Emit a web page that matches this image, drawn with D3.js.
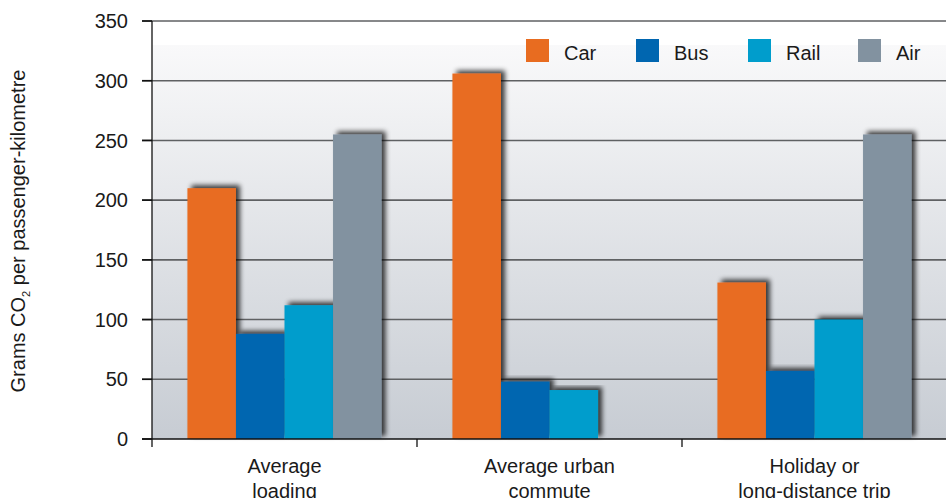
<!DOCTYPE html>
<html>
<head>
<meta charset="utf-8">
<script src="https://cdn.jsdelivr.net/npm/d3@7"></script>
<style>
  body { margin: 0; background: #fff; }
  svg text { font-family: "Liberation Sans", Arial, Helvetica, sans-serif; fill: #1a1a1a; }
</style>
</head>
<body>
<svg class="chartsvg" width="946" height="498"></svg>
<script>
// data
var categories = [["Average", "loading"], ["Average urban", "commute"], ["Holiday or", "long-distance trip"]];
var series = ["Car", "Bus", "Rail", "Air"];
var car  = [210, 306, 131];
var bus  = [88, 48, 57];
var rail = [112, 41, 100];
var air  = [255, null, 255];
var yTicks = [0, 50, 100, 150, 200, 250, 300, 350];

var colors = {Car: "#e86c20", Bus: "#0066b0", Rail: "#009dcc", Air: "#8292a0"};
var values = {Car: car, Bus: bus, Rail: rail, Air: air};

var margin = {top: 21, right: 0, bottom: 59, left: 152};
var width = 946, height = 498;
var svg = d3.select(".chartsvg");
var defs = svg.append("defs");

var grad = defs.append("linearGradient")
    .attr("id", "bg").attr("x1", 0).attr("y1", 0).attr("x2", 0).attr("y2", 1);
grad.append("stop").attr("offset", "0%").attr("stop-color", "#f9f9fa");
grad.append("stop").attr("offset", "100%").attr("stop-color", "#c7ccd3");

var shadow = defs.append("filter").attr("id", "shadow")
    .attr("x", "-30%").attr("y", "-10%").attr("width", "160%").attr("height", "120%");
shadow.append("feGaussianBlur").attr("in", "SourceAlpha").attr("stdDeviation", 2.6).attr("result", "blur");
shadow.append("feOffset").attr("in", "blur").attr("dx", 4).attr("dy", -3).attr("result", "off");
shadow.append("feComponentTransfer").attr("in", "off").attr("result", "sh")
    .append("feFuncA").attr("type", "linear").attr("slope", 0.75);
var merge = shadow.append("feMerge");
merge.append("feMergeNode").attr("in", "sh");
merge.append("feMergeNode").attr("in", "SourceGraphic");

var y = d3.scaleLinear().domain([0, 350]).range([height - margin.bottom, margin.top]);
var x0 = d3.scaleBand().domain(d3.range(categories.length))
    .range([margin.left, width + 1]).paddingInner(0).paddingOuter(0);
var x1 = d3.scaleBand().domain(series)
    .range([0, x0.bandwidth()]).paddingInner(0).paddingOuter(0.73);

// plot background
svg.append("rect")
    .attr("x", margin.left).attr("y", 45)
    .attr("width", width - margin.left).attr("height", y(0) - 45)
    .attr("fill", "url(#bg)");

// gridlines
svg.append("g").attr("class", "grid")
  .selectAll("line").data(yTicks.filter(function(d) { return d > 0; }))
  .enter().append("line")
    .attr("x1", margin.left - 10).attr("x2", width)
    .attr("y1", function(d) { return y(d); }).attr("y2", function(d) { return y(d); })
    .attr("stroke", "#5f6163").attr("stroke-width", 1.6);

// bars
var groups = svg.append("g").attr("class", "bars")
  .selectAll("g").data(categories).enter().append("g")
    .attr("transform", function(d, i) { return "translate(" + x0(i) + ",0)"; });

groups.each(function(c, i) {
    var g = d3.select(this);
    series.forEach(function(s) {
        var v = values[s][i];
        if (v == null) return;
        g.append("rect")
            .attr("x", x1(s)).attr("width", x1.bandwidth())
            .attr("y", y(v)).attr("height", y(0) - y(v))
            .attr("fill", colors[s])
            .attr("filter", "url(#shadow)");
    });
});

// y axis
svg.append("line")
    .attr("x1", margin.left).attr("x2", margin.left)
    .attr("y1", y(350)).attr("y2", y(0) + 8)
    .attr("stroke", "#111").attr("stroke-width", 1.3);
svg.append("g").attr("class", "yticks")
  .selectAll("line").data(yTicks).enter().append("line")
    .attr("x1", margin.left - 10).attr("x2", margin.left)
    .attr("y1", function(d) { return y(d); }).attr("y2", function(d) { return y(d); })
    .attr("stroke", "#111").attr("stroke-width", 1.6);
svg.append("g").attr("class", "ylabels")
  .selectAll("text").data(yTicks).enter().append("text")
    .attr("x", margin.left - 24)
    .attr("y", function(d) { return y(d); })
    .attr("dy", "0.36em")
    .style("text-anchor", "end")
    .style("font-size", "20px")
    .text(function(d) { return d; });

// x axis
svg.append("line")
    .attr("x1", margin.left - 10).attr("x2", width)
    .attr("y1", y(0)).attr("y2", y(0))
    .attr("stroke", "#111").attr("stroke-width", 1.6);
svg.append("g").attr("class", "xticks")
  .selectAll("line").data(d3.range(1, categories.length)).enter().append("line")
    .attr("x1", function(i) { return x0(i); }).attr("x2", function(i) { return x0(i); })
    .attr("y1", y(0)).attr("y2", y(0) + 8)
    .attr("stroke", "#111").attr("stroke-width", 1.3);

var xl = svg.append("g").attr("class", "xlabels")
  .selectAll("text").data(categories).enter().append("text")
    .attr("transform", function(d, i) { return "translate(" + (x0(i) + x0.bandwidth() / 2) + "," + (y(0) + 34) + ")"; })
    .style("text-anchor", "middle")
    .style("font-size", "20px");
xl.append("tspan").attr("x", 0).attr("y", 0).text(function(d) { return d[0]; });
xl.append("tspan").attr("x", 0).attr("y", 25).text(function(d) { return d[1]; });

// y axis title
var yt = svg.append("text")
    .attr("transform", "translate(25," + 231 + ") rotate(-90)")
    .style("text-anchor", "middle")
    .style("font-size", "20px");
yt.append("tspan").text("Grams CO");
yt.append("tspan").attr("dy", 5).style("font-size", "11px").text("2");
yt.append("tspan").attr("dy", -5).text(" per passenger-kilometre");

// legend
var legendX = [526, 636, 748, 858];
var legend = svg.append("g").attr("class", "legendgroup")
  .selectAll("g").data(series).enter().append("g")
    .attr("transform", function(d, i) { return "translate(" + legendX[i] + ",39)"; });
legend.append("rect")
    .attr("width", 23).attr("height", 23)
    .attr("fill", function(d) { return colors[d]; });
legend.append("text")
    .attr("x", 38).attr("y", 21)
    .style("font-size", "20px")
    .text(function(d) { return d; });
</script>
</body>
</html>
